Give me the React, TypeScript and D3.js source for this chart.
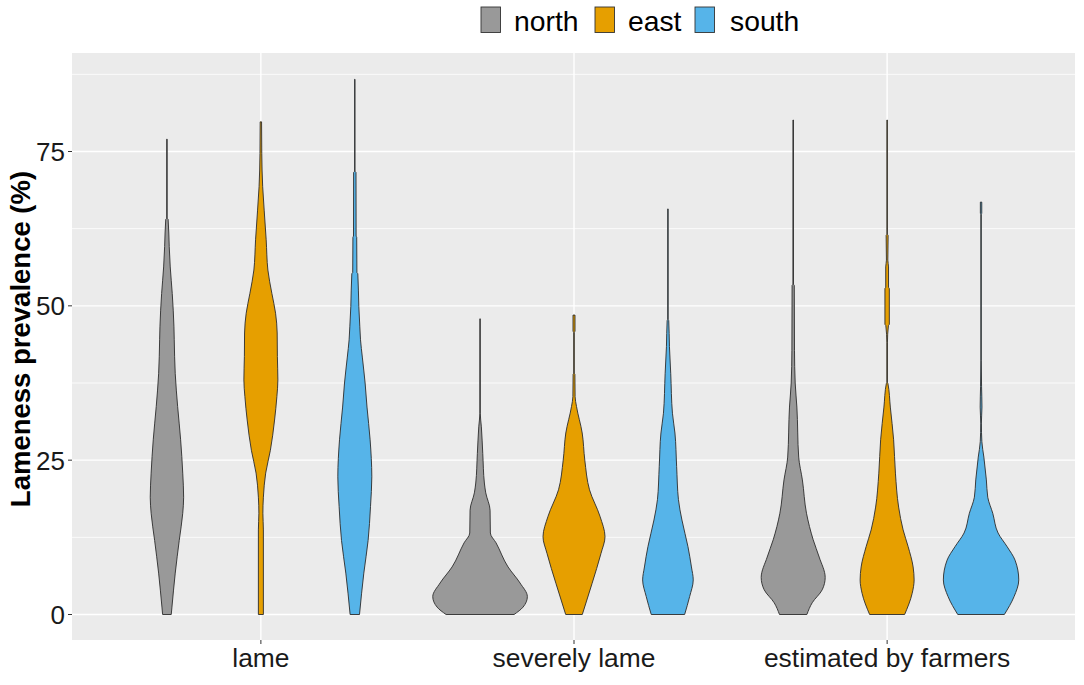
import React from "react";
import * as d3 from "d3";

const categories = ["lame", "severely lame", "estimated by farmers"];
const groups = ["north", "east", "south"];
const groupColors = ["#999999", "#E69F00", "#56B4E9"];
const yTicks = [0, 25, 50, 75];
const yMinor = [12.5, 37.5, 62.5, 87.5];

type P = [number, number];
// [prevalence, relative density]
const lameNorth: P[] = [[77,0.2],[64.2,0.2],[64,1.2],[59.6,2.3],[56.3,3.3],[52,5.3],[46.6,7],[44.5,7.3],[39,8.3],[33.7,10.7],[28.3,13.7],[22.9,15.8],[19,16.7],[16.4,15.8],[12,12.3],[6.7,8.3],[1.2,5],[0,4.3]];
const lameEast: P[] = [[79.8,0.7],[74.7,0.9],[69.3,1.8],[65.5,3.3],[60.7,5.3],[55.8,7],[52,11],[48.8,14.7],[45.6,16.3],[41.8,16.5],[38,17],[35.3,16],[31.5,13.7],[26.6,9.5],[22.9,4.8],[19,2.5],[16.4,2],[13.7,2.5],[0,2.5]];
const lameSouth: P[] = [[86.7,0.15],[71.8,0.15],[71.6,1.2],[61.3,1.3],[61.1,1.9],[55.4,2.1],[55.2,3],[49.9,4],[46.6,5],[44.5,5.7],[41.7,7.5],[37.5,10.3],[33.6,12.2],[28.3,15.3],[22.3,17],[17.5,15.7],[12,13.3],[6.7,9],[0,4.7]];
const severeNorth: P[] = [[47.9,0.2],[32.6,0.2],[30.4,1.3],[26.1,2.7],[21.3,4.3],[19.7,5.7],[16.9,10],[13.2,10.3],[11.6,16],[7.7,28],[5.1,40],[2.9,47.3],[1.2,43],[0,34]];
const severeEast: P[] = [[48.5,1],[45.9,1],[45.7,0.3],[39.1,0.3],[38.9,0.9],[35.3,1.1],[33.7,2.5],[29.4,8.2],[25,10.8],[20.2,15.5],[15.9,26],[12.6,31],[9.9,27],[5,18],[0,8.3]];
const severeSouth: P[] = [[65.7,0.2],[47.8,0.2],[47.6,0.8],[43.4,1.5],[39,2.8],[32.6,4.5],[29.4,7],[24,8.7],[18.6,10.5],[15.3,14],[11,20],[7.7,23.5],[5.6,25.3],[2.9,21.7],[0,16.7]];
const estNorth: P[] = [[80.1,0.25],[53.5,0.25],[53.3,1.1],[42.8,1.3],[37.5,2],[33.6,3.7],[25.5,5.5],[21.8,9.2],[16.4,13.3],[12.1,20],[9.3,26],[6,32],[4,29],[1.9,19],[0,13.7]];
const estEast: P[] = [[80.1,0.25],[61.6,0.25],[61.4,1],[57.4,0.7],[56.3,1.4],[53,1.4],[52.8,2.2],[47,2.2],[46.8,1.3],[44,0.3],[37.6,0.3],[37.4,0.8],[33.6,3.2],[28.3,6.5],[22.9,8.3],[17.4,11.5],[13.7,16],[11,21],[7.7,26],[5.6,27],[3.4,25],[0,17.5]];
const estSouth: P[] = [[66.8,0.7],[65,0.7],[64.8,0.2],[41.2,0.2],[36.9,0.5],[33.6,0.9],[31,0.3],[28,0.8],[25.5,2.8],[21.8,5.3],[19,6.7],[16.4,11.7],[13.2,17],[11,26],[8.8,34],[5.6,37.7],[2.9,33],[0,23.3]];

const violins: P[][][] = [
  [lameNorth, lameEast, lameSouth],
  [severeNorth, severeEast, severeSouth],
  [estNorth, estEast, estSouth],
];

const W = 1084;
const H = 685;
const panel = { left: 72, right: 1075, top: 53, bottom: 640 };
const FONT = "'Liberation Sans', Arial, sans-serif";

const y = d3.scaleLinear().domain([0, 75]).range([614.5, 151.5]);
const x = d3.scalePoint<string>().domain(categories).range([panel.left + 1, panel.right]).padding(0.6);
const dodge = d3.scalePoint<string>().domain(groups).range([-0.3 * x.step(), 0.3 * x.step()]);
const width = d3.scaleLinear().domain([0, 47.3]).range([0, 47.3]);

const violinPath = d3
  .area<P>()
  .curve(d3.curveMonotoneY)
  .y((d) => y(d[0]))
  .x0((d) => -width(d[1]))
  .x1((d) => width(d[1]));

const legendSwatchX = [481, 595, 695];
const legendTextX = [514, 628, 730];

export default function App() {
  return (
    <svg
      width={W}
      height={H}
      viewBox={`0 0 ${W} ${H}`}
      style={{ position: "absolute", left: 0, top: 0, display: "block", background: "#fff" }}
      fontFamily={FONT}
    >
      <rect x={panel.left} y={panel.top} width={panel.right - panel.left} height={panel.bottom - panel.top} fill="#EBEBEB" />
      {yMinor.map((t) => (
        <line key={t} x1={panel.left} x2={panel.right} y1={y(t)} y2={y(t)} stroke="#fff" strokeWidth={0.8} />
      ))}
      {yTicks.map((t) => (
        <line key={t} x1={panel.left} x2={panel.right} y1={y(t)} y2={y(t)} stroke="#fff" strokeWidth={1.4} />
      ))}
      {categories.map((c) => (
        <line key={c} x1={x(c)} x2={x(c)} y1={panel.top} y2={panel.bottom} stroke="#fff" strokeWidth={1.4} />
      ))}

      {categories.map((c, i) =>
        groups.map((g, j) => (
          <path
            key={c + g}
            transform={`translate(${(x(c) as number) + (dodge(g) as number)},0)`}
            d={violinPath(violins[i][j]) as string}
            fill={groupColors[j]}
            stroke="#2b2b2b"
            strokeWidth={0.9}
            strokeLinejoin="round"
          />
        ))
      )}

      {yTicks.map((t) => (
        <g key={t}>
          <line x1={panel.left - 4} x2={panel.left} y1={y(t)} y2={y(t)} stroke="#333" strokeWidth={1} />
          <text x={panel.left - 7} y={y(t)} dy="0.36em" textAnchor="end" fontSize={26} fill="#1a1a1a">
            {t}
          </text>
        </g>
      ))}
      {categories.map((c) => (
        <g key={c}>
          <line x1={x(c)} x2={x(c)} y1={panel.bottom} y2={panel.bottom + 4} stroke="#333" strokeWidth={1} />
          <text x={x(c)} y={667} textAnchor="middle" fontSize={26.4} fill="#1a1a1a">
            {c}
          </text>
        </g>
      ))}

      <text
        transform={`translate(30,339) rotate(-90)`}
        textAnchor="middle"
        fontSize={27.5}
        fontWeight="bold"
        fill="#000"
      >
        Lameness prevalence (%)
      </text>

      {groups.map((g, j) => (
        <g key={g}>
          <rect x={legendSwatchX[j]} y={7} width={19.5} height={25.5} fill={groupColors[j]} stroke="#333" strokeWidth={0.9} />
          <text x={legendTextX[j]} y={31} fontSize={28.3} fill="#000">
            {g}
          </text>
        </g>
      ))}
    </svg>
  );
}
